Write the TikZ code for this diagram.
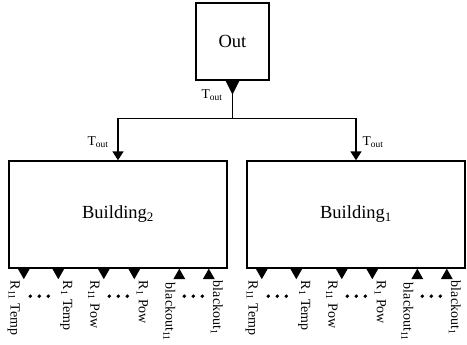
\documentclass[tikz,border=0pt]{standalone}
\usepackage{fontspec}
\setmainfont{Liberation Serif}
\usetikzlibrary{arrows.meta,calc}
\tikzset{
  box/.style={draw, line width=1.4pt, inner sep=0pt},
  wire/.style={line width=1.5pt},
  big/.style={font=\fontsize{18.5}{20}\selectfont},
  plab/.style={font=\fontsize{14}{15}\selectfont, rotate=-90, anchor=west, inner sep=0pt},
  tlab/.style={font=\fontsize{13.5}{15}\selectfont, inner sep=0pt},
  tri/.style={fill=black},
}
\newcommand{\portrow}[1]{%
  \foreach \ox in {15.5,50,95.5,126}{
    \fill[tri] ($(#1.south west)+(\ox-6,0)$) -- ++(12,0) -- ++(-6,10.5) -- cycle;
  }
  \foreach \ox in {171,200.5}{
    \fill[tri] ($(#1.south west)+(\ox-6,10.5)$) -- ++(12,0) -- ++(-6,-10.5) -- cycle;
  }
  \foreach \ox in {31,110,185}{
    \foreach \d in {-9,0,9}{
      \fill ($(#1.south west)+(\ox+\d,27.5)$) circle (1.9);
    }
  }
  \node[plab] (#1p1) at ($(#1.south west)+(15.5-10,12)$) {R\textsubscript{11} Temp};
  \node[plab] (#1p2) at ($(#1.south west)+(50+8,12)$) {R\textsubscript{1} Temp};
  \node[plab] (#1p3) at ($(#1.south west)+(95.5-10,12)$) {R\textsubscript{11} Pow};
  \node[plab] (#1p4) at ($(#1.south west)+(126+8,12)$) {R\textsubscript{1} Pow};
  \node[plab] (#1p5) at ($(#1.south west)+(171-10,14)$) {blackout\textsubscript{11}};
  \node[plab] (#1p6) at ($(#1.south west)+(200.5+8,12)$) {blackout\textsubscript{1}};
}
\begin{document}
\begin{tikzpicture}[x=1pt,y=-1pt]
\useasboundingbox (0,0) rectangle (467,345);
\node[box, big, minimum width=73pt, minimum height=77pt] (out) at (232.5,41.5) {Out};
\node[box, big, minimum width=218pt, minimum height=107pt] (b2) at (118,214.5) {Building\textsubscript{2}};
\node[box, big, minimum width=218pt, minimum height=107pt] (b1) at (356,214.5) {Building\textsubscript{1}};
\fill[tri] ($(out.south)+(-7,0)$) -- ++(14,0) -- ++(-7,14) -- cycle;
\draw[wire] (out.south) -- ++(0,38) coordinate (j);
\draw[wire, -{Triangle[width=11pt,length=9pt]}] (j) -| (b2.north);
\draw[wire, -{Triangle[width=11pt,length=9pt]}] (j) -| (b1.north);
\node[tlab] (t0) at (212,95) {T\textsubscript{out}};
\node[tlab] (t2) at (98,142) {T\textsubscript{out}};
\node[tlab] (t1) at (373,142) {T\textsubscript{out}};
\portrow{b2}
\portrow{b1}
\end{tikzpicture}
\end{document}
